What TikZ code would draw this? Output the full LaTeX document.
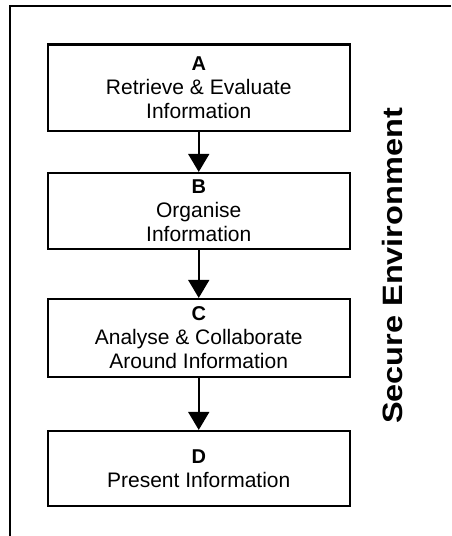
\documentclass[tikz,border=0pt]{standalone}
\usepackage{fontspec}
\setmainfont{Liberation Sans}
\usepackage{graphicx}
\usetikzlibrary{arrows.meta}
\begin{document}
\begin{tikzpicture}[x=1pt,y=-1pt,
  stagebox/.style={draw=black, line width=2.2pt, rectangle, inner sep=0pt,
    minimum width=302pt, align=center, font=\fontsize{21}{24}\selectfont},
  flow/.style={line width=1.8pt, -{Triangle[width=21pt,length=18pt]}},
  frame/.style={line width=2.4pt}]
\useasboundingbox (0,0) rectangle (451,536);
\newcommand{\stagelabel}[1]{{\fontsize{20}{24}\selectfont\bfseries #1}}
\node[stagebox, minimum height=86.5pt] (A) at (198.75,87.75)
  {\stagelabel{A}\\Retrieve \& Evaluate\\Information};
\node[stagebox, minimum height=76pt] (B) at (198.75,211)
  {\stagelabel{B}\\Organise\\Information};
\node[stagebox, minimum height=78pt] (C) at (198.75,338)
  {\stagelabel{C}\\Analyse \& Collaborate\\Around Information};
\node[stagebox, minimum height=75pt] (D) at (198.75,468.5)
  {\stagelabel{D}\\Present Information};
\draw[flow] (A.south) -- (B.north);
\draw[flow] (B.south) -- (C.north);
\draw[flow] (C.south) -- (D.north);
\node[rotate=90, font=\fontsize{28}{30}\selectfont\bfseries, inner sep=0pt] (env) at (392,266)
  {\scalebox{1.16}[1]{Secure Environment}};
\coordinate (f1) at (10,536);
\coordinate (f2) at (10,6);
\coordinate (f3) at (451,6);
\draw[frame] (f1) -- (f2) -- (f3);
\end{tikzpicture}
\end{document}
